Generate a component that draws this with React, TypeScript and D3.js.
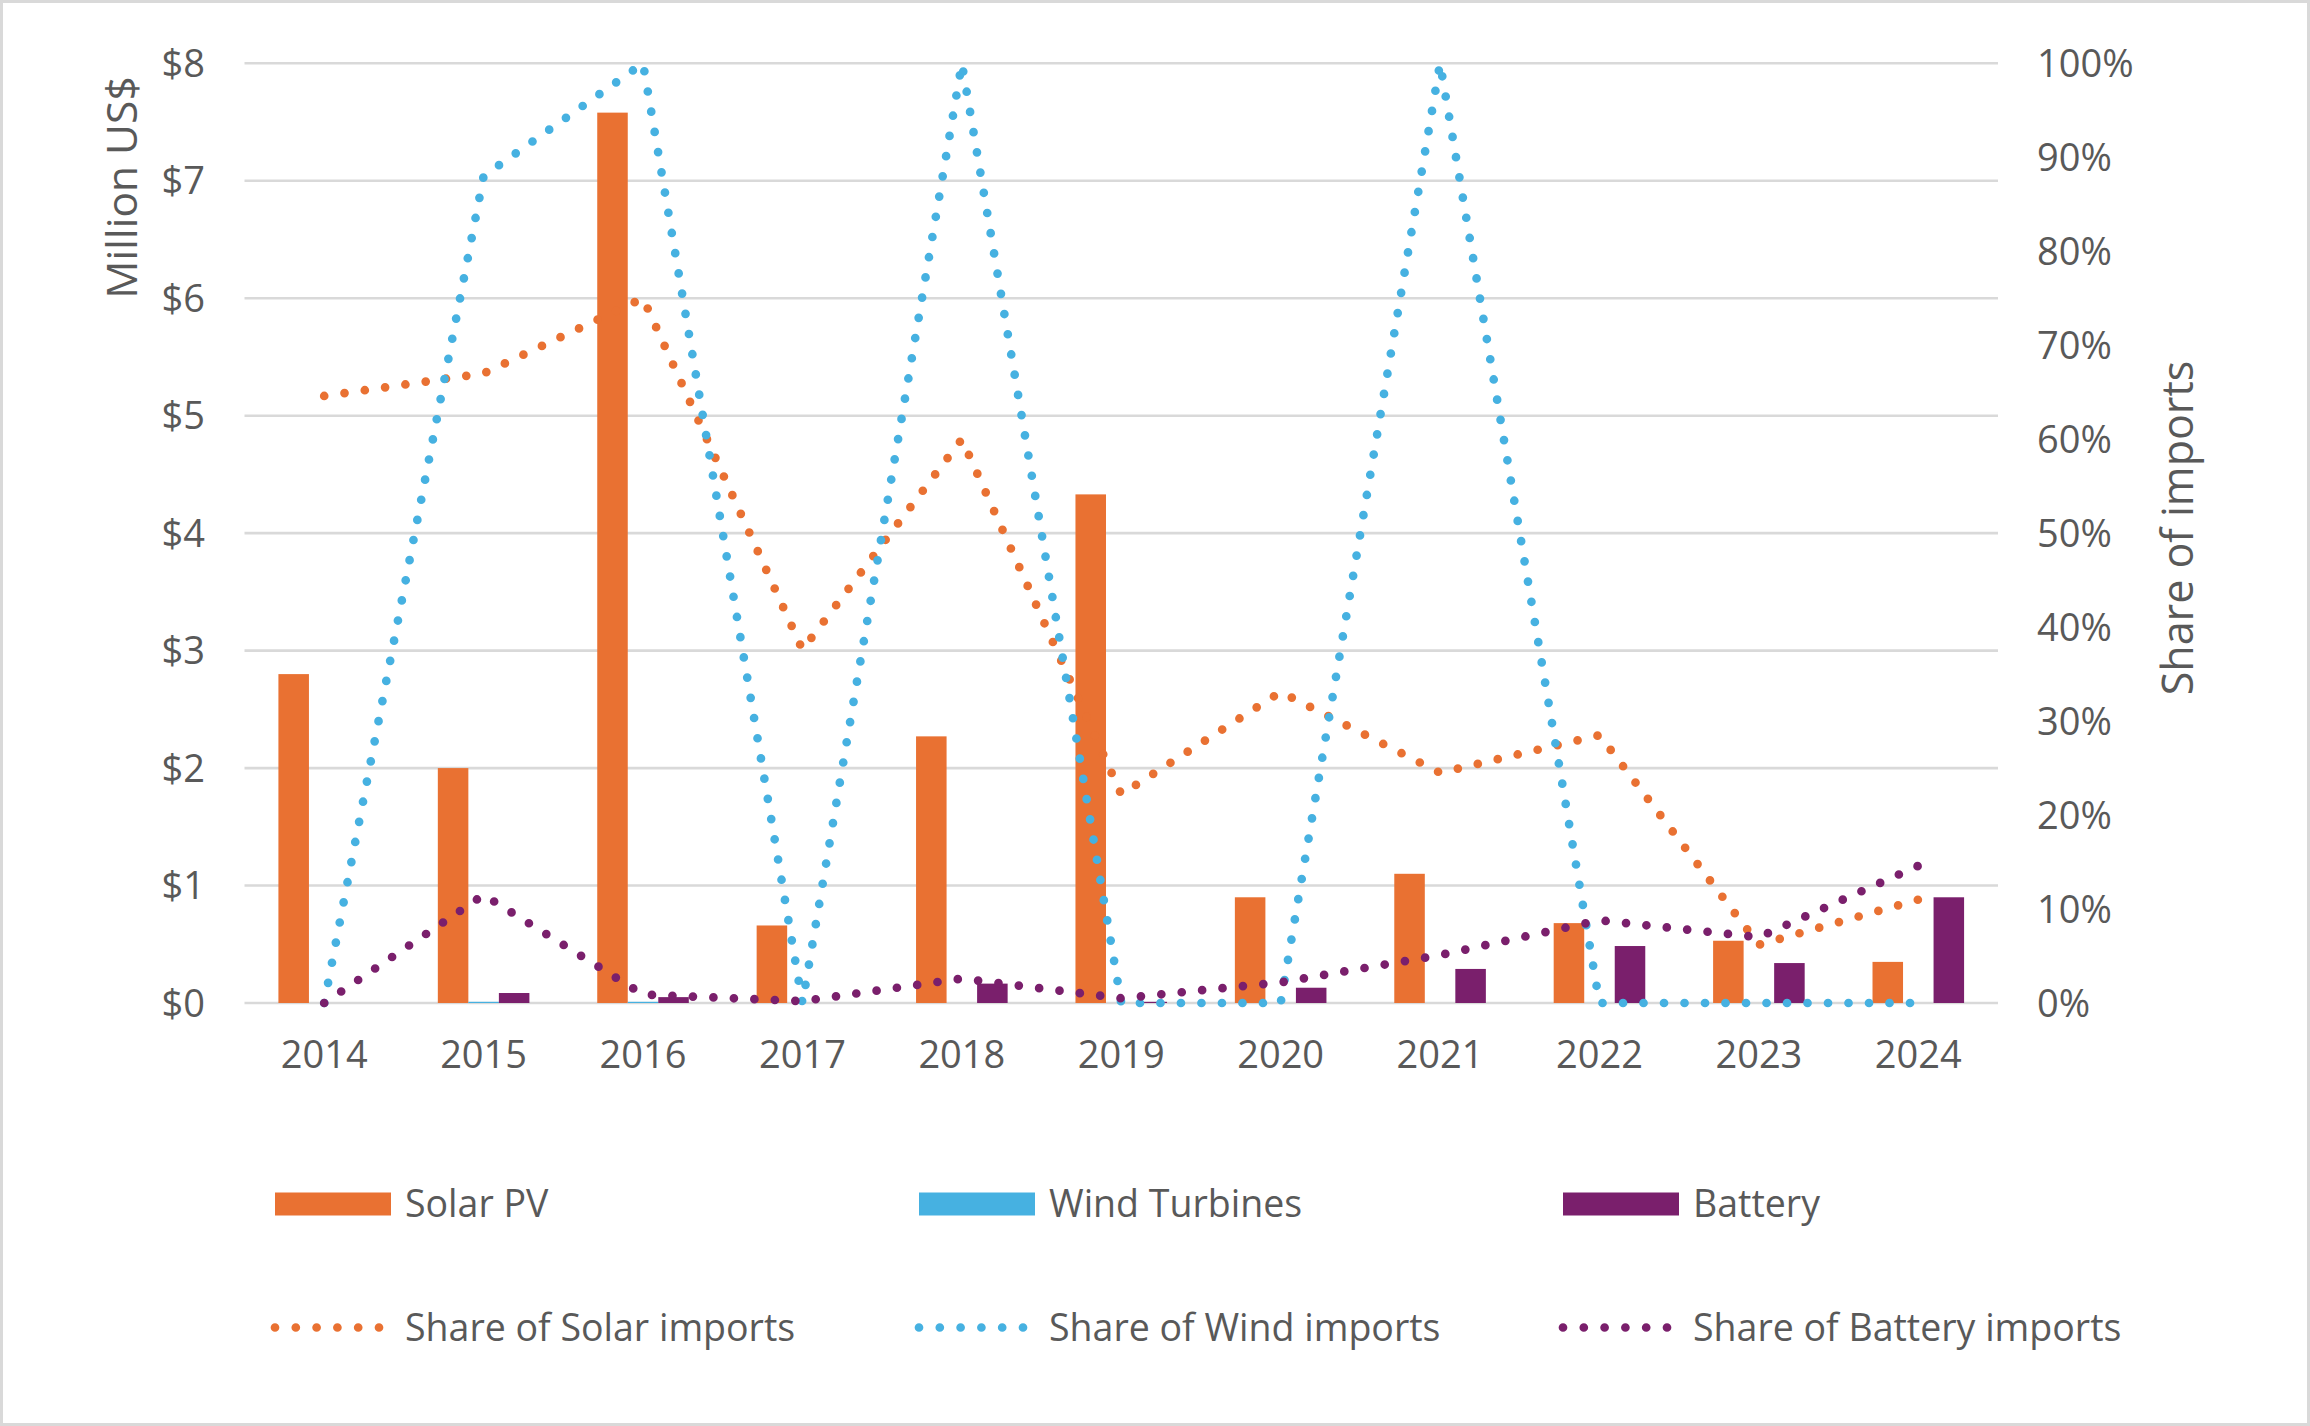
import * as d3 from 'd3';

const years = ['2014', '2015', '2016', '2017', '2018', '2019', '2020', '2021', '2022', '2023', '2024'];

// Million US$
const solarPV = [2.8, 2.0, 7.58, 0.66, 2.27, 4.33, 0.9, 1.1, 0.68, 0.53, 0.35];
const windTurbines = [0, 0.01, 0.01, 0, 0, 0, 0, 0, 0, 0, 0];
const battery = [0, 0.085, 0.05, 0, 0.165, 0.01, 0.13, 0.29, 0.485, 0.34, 0.9];

// share of imports
const solarShare = [0.646, 0.67, 0.75, 0.376, 0.6, 0.222, 0.331, 0.245, 0.285, 0.062, 0.11];
const windShare = [0, 0.88, 1, 0, 1, 0, 0, 1, 0, 0, 0];
const batteryShare = [0, 0.115, 0.009, 0.002, 0.026, 0.005, 0.022, 0.051, 0.088, 0.07, 0.146];

const moneyTicks = [0, 1, 2, 3, 4, 5, 6, 7, 8];
const shareTicks = [0, 0.1, 0.2, 0.3, 0.4, 0.5, 0.6, 0.7, 0.8, 0.9, 1];

const W = 2310;
const H = 1426;
const plot = { left: 244.5, right: 1998, top: 63.3, bottom: 1003 };

const ORANGE = '#E97132';
const BLUE = '#46B1E1';
const PURPLE = '#7A1F6C';
const GRID = '#D9D9D9';
const TEXT = '#595959';
const FONT = '"Open Sans", "Liberation Sans", Arial, sans-serif';

const barSeries = [
  { name: 'Solar PV', values: solarPV, color: ORANGE },
  { name: 'Wind Turbines', values: windTurbines, color: BLUE },
  { name: 'Battery', values: battery, color: PURPLE },
];

const lineSeries = [
  { name: 'Share of Solar imports', values: solarShare, color: ORANGE },
  { name: 'Share of Wind imports', values: windShare, color: BLUE },
  { name: 'Share of Battery imports', values: batteryShare, color: PURPLE },
];

export default function App() {
  const x = d3.scaleBand().domain(years).range([plot.left, plot.right]).padding(0);
  const yLeft = d3.scaleLinear().domain([0, 8]).range([plot.bottom, plot.top]);
  const yRight = d3.scaleLinear().domain([0, 1]).range([plot.bottom, plot.top]);

  const barW = x.bandwidth() * 0.1915;
  const center = (yr: string) => (x(yr) as number) + x.bandwidth() / 2;

  const line = d3
    .line<number>()
    .x((_, i) => center(years[i]))
    .y((d) => yRight(d));

  const dotW = 8.7;
  const dotGap = 20.5;

  const legendCols = [275, 919, 1563];
  const legendRow1 = 1204;
  const legendRow2 = 1327.5;

  return (
    <svg
      width={W}
      height={H}
      style={{ position: 'absolute', left: 0, top: 0, display: 'block', background: '#fff' }}
      fontFamily={FONT}
    >
      <rect x={1.5} y={1.5} width={W - 3} height={H - 3} fill="#fff" stroke={GRID} strokeWidth={3} />

      {/* gridlines */}
      {moneyTicks.map((t) => (
        <line key={t} x1={plot.left} x2={plot.right} y1={yLeft(t)} y2={yLeft(t)} stroke={GRID} strokeWidth={2.6} />
      ))}

      {/* left axis labels */}
      {moneyTicks.map((t) => (
        <text key={t} x={205} y={yLeft(t) + 13.5} textAnchor="end" fontSize={38} fill={TEXT}>
          {`$${t}`}
        </text>
      ))}

      {/* right axis labels */}
      {shareTicks.map((t) => (
        <text key={t} x={2037} y={yRight(t) + 13.5} textAnchor="start" fontSize={38} fill={TEXT}>
          {d3.format('.0%')(t)}
        </text>
      ))}

      {/* x labels */}
      {years.map((yr) => (
        <text key={yr} x={center(yr)} y={1068} textAnchor="middle" fontSize={38} fill={TEXT}>
          {yr}
        </text>
      ))}

      {/* axis titles */}
      <text transform="translate(137,187.5) rotate(-90)" textAnchor="middle" fontSize={42.5} fill={TEXT}>
        Million US$
      </text>
      <text transform="translate(2193,528) rotate(-90)" textAnchor="middle" fontSize={43} fill={TEXT}>
        Share of imports
      </text>

      {/* bars */}
      {barSeries.map((s, si) => (
        <g key={s.name}>
          {s.values.map((v, i) => (
            <rect
              key={years[i]}
              x={center(years[i]) + (si - 1.5) * barW}
              y={yLeft(v)}
              width={barW}
              height={yLeft(0) - yLeft(v)}
              fill={s.color}
            />
          ))}
        </g>
      ))}

      {/* share lines */}
      {lineSeries.map((s) => (
        <path
          key={s.name}
          d={line(s.values) as string}
          fill="none"
          stroke={s.color}
          strokeWidth={dotW}
          strokeLinecap="round"
          strokeLinejoin="round"
          strokeDasharray={`0 ${dotGap}`}
        />
      ))}

      {/* legend */}
      {barSeries.map((s, i) => (
        <g key={s.name}>
          <rect x={legendCols[i]} y={legendRow1 - 11.5} width={116} height={23} fill={s.color} />
          <text x={legendCols[i] + 130} y={legendRow1 + 13} fontSize={37.5} fill={TEXT}>
            {s.name}
          </text>
        </g>
      ))}
      {lineSeries.map((s, i) => (
        <g key={s.name}>
          <line
            x1={legendCols[i]}
            x2={legendCols[i] + 105}
            y1={legendRow2}
            y2={legendRow2}
            stroke={s.color}
            strokeWidth={dotW}
            strokeLinecap="round"
            strokeDasharray="0 20.8"
          />
          <text x={legendCols[i] + 130} y={legendRow2 + 13} fontSize={37.5} fill={TEXT}>
            {s.name}
          </text>
        </g>
      ))}
    </svg>
  );
}
